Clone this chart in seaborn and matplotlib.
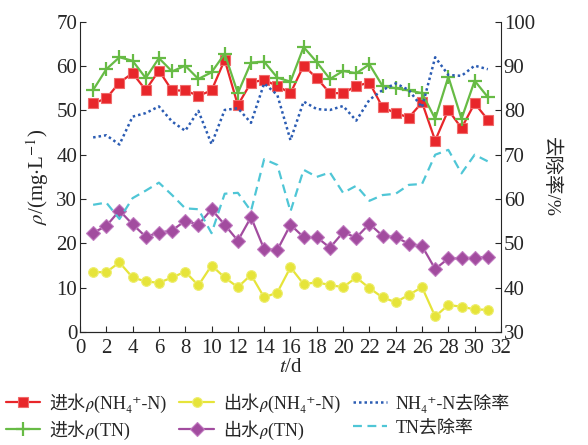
import numpy as np
import pandas as pd
import seaborn as sns
import matplotlib.pyplot as plt

# Data
days = list(range(1, 32))
in_nh4 = [51.6, 52.7, 56.3, 58.4, 54.6, 59.0, 54.5, 54.5, 53.3, 54.5, 61.4,
          51.2, 56.3, 56.9, 55.5, 53.9, 60.1, 57.3, 53.9, 53.9, 55.5, 56.3,
          50.7, 49.4, 48.4, 51.8, 43.2, 50.1, 46.0, 51.6, 47.9]
in_tn = [54.6, 59.3, 62.0, 61.2, 57.3, 61.8, 58.8, 60.1, 57.1, 58.6, 62.8,
         53.9, 60.8, 61.0, 57.4, 56.5, 64.3, 60.9, 57.1, 58.9, 58.4, 60.4,
         55.5, 55.0, 54.5, 53.9, 48.1, 57.6, 48.1, 56.7, 53.0]
out_nh4 = [13.5, 13.5, 15.7, 12.3, 11.4, 11.1, 12.3, 13.6, 10.5, 15.0, 12.3,
           10.1, 12.9, 7.8, 8.9, 14.6, 10.8, 11.2, 10.6, 10.1, 12.3, 9.9,
           7.8, 6.7, 8.4, 10.1, 3.5, 6.1, 5.7, 5.1, 5.0]
out_tn = [22.4, 23.9, 27.4, 24.3, 21.5, 22.4, 22.9, 25.1, 24.2, 27.7, 24.2,
          20.6, 25.9, 18.7, 18.5, 24.2, 21.4, 21.4, 19.0, 22.5, 21.3, 24.4,
          21.7, 21.4, 19.9, 19.4, 14.2, 16.6, 16.6, 16.8, 16.9]
rem_nh4 = [73.9, 74.4, 72.3, 78.6, 79.4, 80.9, 77.5, 75.4, 79.9, 72.4, 80.1,
           80.5, 77.2, 86.1, 83.5, 73.3, 82.0, 80.3, 80.1, 81.0, 77.7, 82.4,
           84.6, 86.1, 84.6, 80.7, 92.0, 88.0, 87.8, 90.1, 89.3]
rem_tn = [58.7, 59.2, 55.5, 60.2, 61.9, 63.7, 60.9, 57.9, 57.7, 52.3, 61.2,
          61.4, 57.3, 69.0, 67.7, 57.2, 66.6, 65.0, 66.0, 61.4, 63.0, 59.6,
          60.9, 61.2, 63.2, 63.4, 70.0, 71.1, 65.8, 70.0, 68.5]

df = pd.DataFrame({'day': days, 'in_nh4': in_nh4, 'in_tn': in_tn,
                   'out_nh4': out_nh4, 'out_tn': out_tn,
                   'rem_nh4': rem_nh4, 'rem_tn': rem_tn})

sns.set_style('ticks')
plt.rcParams['font.family'] = ['Liberation Serif', 'STIXGeneral', 'DejaVu Serif',
                               'Noto Sans CJK SC', 'DejaVu Sans']
plt.rcParams['mathtext.fontset'] = 'stix'
plt.rcParams['xtick.direction'] = 'in'
plt.rcParams['ytick.direction'] = 'in'

fig = plt.figure(figsize=(5.88, 4.45), dpi=100)
ax = fig.add_axes([0.136, 0.254, 0.716, 0.697])
ax2 = ax.twinx()

red, green = '#e8262a', '#67bb45'
yellow, purple = '#e6e43a', '#a24c9f'
blue, cyan = '#2b5cb3', '#4fc6d6'

rho = '\U0001D70C'
sns.lineplot(data=df, x='day', y='in_nh4', ax=ax, color=red, marker='s',
             markersize=7, markeredgecolor='#f06a6a', markeredgewidth=0.8,
             lw=1.6, label=f'进水{rho}(NH₄⁺-N)', legend=False)
sns.lineplot(data=df, x='day', y='in_tn', ax=ax, color=green, marker='+',
             markersize=10, markeredgecolor=green, markeredgewidth=1.6, lw=1.6,
             label=f'进水{rho}(TN)', legend=False)
sns.lineplot(data=df, x='day', y='out_nh4', ax=ax, color=yellow, marker='o',
             markersize=7, markeredgecolor='#eeee70', markeredgewidth=0.8,
             lw=1.6, label=f'出水{rho}(NH₄⁺-N)', legend=False)
sns.lineplot(data=df, x='day', y='out_tn', ax=ax, color=purple, marker='D',
             markersize=7, markeredgecolor='#c07ac0', markeredgewidth=0.8,
             lw=1.6, label=f'出水{rho}(TN)', legend=False)
sns.lineplot(data=df, x='day', y='rem_nh4', ax=ax2, color=blue, lw=1.8,
             linestyle=(0, (1, 1.2)), label='NH₄⁺-N去除率', legend=False)
sns.lineplot(data=df, x='day', y='rem_tn', ax=ax2, color=cyan, lw=1.6,
             linestyle=(0, (4, 2.5)), label='TN去除率', legend=False)

ax.set_xlim(0, 32)
ax.set_ylim(0, 70)
ax2.set_ylim(30, 100)
ax.set_xticks(range(0, 33, 2))
ax.set_yticks(range(0, 71, 10))
ax2.set_yticks(range(30, 101, 10))

for a in (ax, ax2):
    a.spines['top'].set_visible(False)
    a.tick_params(labelsize=15, length=4, width=0.8, pad=2)
ax.tick_params(axis='x', pad=5)
ax2.spines['right'].set_visible(True)
ax2.spines['left'].set_visible(False)
ax.spines['right'].set_visible(False)

ax.set_xlabel('$t$/d', fontsize=15, labelpad=0)
ax.set_ylabel('$\\rho$/(mg$\\cdot$L$^{-1}$)', fontsize=15, labelpad=4)
ax2.set_ylabel('去除率/%', fontsize=14, rotation=-90, labelpad=18)

h1, l1 = ax.get_legend_handles_labels()
h2, l2 = ax2.get_legend_handles_labels()
fig.legend(h1 + h2, l1 + l2, ncol=3, loc='lower left',
           bbox_to_anchor=(-0.008, -0.012), frameon=False, fontsize=13,
           handlelength=1.9, handletextpad=0.5, columnspacing=0.7,
           labelspacing=0.4, borderaxespad=0.2)

fig.savefig('out.png', dpi=100)
